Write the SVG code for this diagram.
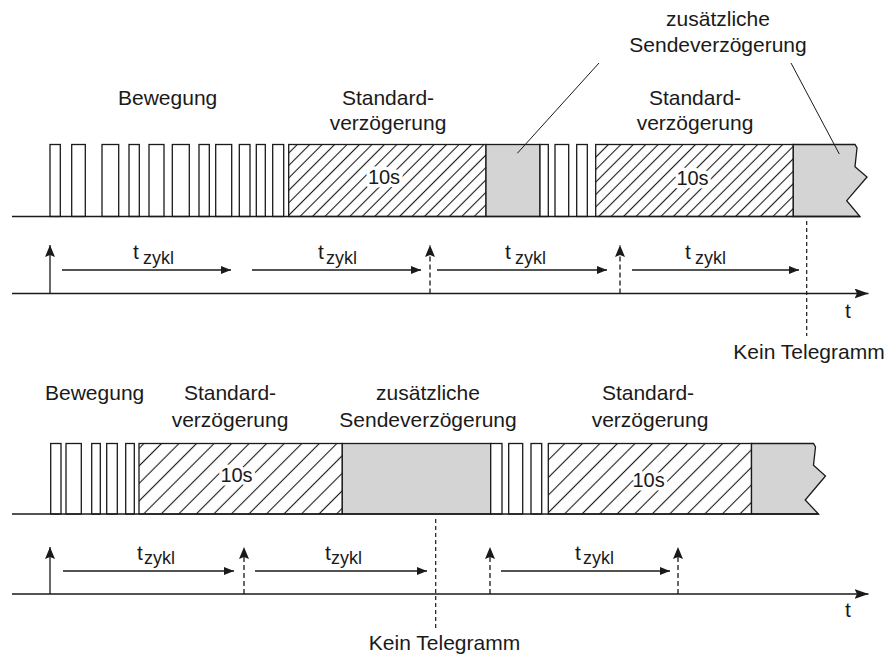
<svg xmlns="http://www.w3.org/2000/svg" width="887" height="660" viewBox="0 0 887 660">
<style>
  .txt { font-family: "Liberation Sans", Arial, sans-serif; font-size: 21px; fill: #1a1a1a; }
  .mid { text-anchor: middle; }
  .ten { font-family: "Liberation Sans", Arial, sans-serif; font-size: 20px; fill: #1a1a1a; text-anchor: middle; stroke: #ffffff; stroke-width: 7px; paint-order: stroke; stroke-linejoin: round; }
  .sub { font-size: 18px; }
  .pulse { fill: #ffffff; stroke: #1a1a1a; stroke-width: 1.3; }
  .gray { fill: #d4d4d4; stroke: #1a1a1a; stroke-width: 1.3; }
  .hT { fill: url(#hatchT); stroke: #1a1a1a; stroke-width: 1.3; }
  .hB { fill: url(#hatchB); stroke: #1a1a1a; stroke-width: 1.3; }
  .base { stroke: #1a1a1a; stroke-width: 1.5; fill: none; }
  .arr { stroke: #1a1a1a; stroke-width: 1.3; fill: none; }
  .dash { stroke: #1a1a1a; stroke-width: 1.3; fill: none; stroke-dasharray: 5 3; }
  .dot { stroke: #1a1a1a; stroke-width: 1.2; fill: none; stroke-dasharray: 4 3; }
  .lead { stroke: #1a1a1a; stroke-width: 1; fill: none; }
</style>
<defs>
  <pattern id="hatchT" patternUnits="userSpaceOnUse" width="20" height="8.8" patternTransform="rotate(-45)">
    <line x1="0" y1="4.4" x2="20" y2="4.4" stroke="#1a1a1a" stroke-width="1.1"/>
  </pattern>
  <pattern id="hatchB" patternUnits="userSpaceOnUse" width="20" height="12.4" patternTransform="rotate(-45)">
    <line x1="0" y1="6.2" x2="20" y2="6.2" stroke="#1a1a1a" stroke-width="1.1"/>
  </pattern>
  <marker id="up" viewBox="0 0 12 10" refX="12" refY="5" markerWidth="12" markerHeight="10" orient="auto" markerUnits="userSpaceOnUse">
    <path d="M0,0 L12,5 L0,10 L2,5 z" fill="#1a1a1a"/>
  </marker>
  <marker id="hz" viewBox="0 0 10 8" refX="10" refY="4" markerWidth="10" markerHeight="8" orient="auto" markerUnits="userSpaceOnUse">
    <path d="M0,0 L10,4 L0,8 z" fill="#1a1a1a"/>
  </marker>
  <marker id="ax" viewBox="0 0 14 10" refX="14" refY="5" markerWidth="14" markerHeight="10" orient="auto" markerUnits="userSpaceOnUse">
    <path d="M0,0 L14,5 L0,10 L2.5,5 z" fill="#1a1a1a"/>
  </marker>
</defs>

<!-- ============ TOP DIAGRAM ============ -->
<g id="top-signal">
  <rect class="pulse" x="50" y="144.5" width="10.3" height="72"/>
  <rect class="pulse" x="71.7" y="144.5" width="13.6" height="72"/>
  <rect class="pulse" x="102" y="144.5" width="16.7" height="72"/>
  <rect class="pulse" x="129" y="144.5" width="10.3" height="72"/>
  <rect class="pulse" x="149" y="144.5" width="15" height="72"/>
  <rect class="pulse" x="172.3" y="144.5" width="17" height="72"/>
  <rect class="pulse" x="199" y="144.5" width="10.3" height="72"/>
  <rect class="pulse" x="215.7" y="144.5" width="16" height="72"/>
  <rect class="pulse" x="239.3" y="144.5" width="10.7" height="72"/>
  <rect class="pulse" x="256.3" y="144.5" width="9" height="72"/>
  <rect class="pulse" x="272.7" y="144.5" width="11" height="72"/>
  <rect class="hT" x="288.7" y="144.5" width="197.3" height="72"/>
  <rect class="gray" x="486" y="144.5" width="54" height="72"/>
  <rect class="pulse" x="540" y="144.5" width="8.3" height="72"/>
  <rect class="pulse" x="555" y="144.5" width="13.7" height="72"/>
  <rect class="pulse" x="576.7" y="144.5" width="10.6" height="72"/>
  <rect class="hT" x="595.7" y="144.5" width="197.6" height="72"/>
  <polygon class="gray" points="793.3,144.5 855,144.5 857,148 855,166.7 867,177 846.7,200.7 860,216.5 793.3,216.5"/>
  <line class="base" x1="12" y1="216.5" x2="860" y2="216.5"/>
  <text class="ten" x="384" y="184">10s</text>
  <text class="ten" x="692.5" y="185">10s</text>
</g>

<g id="top-labels">
  <text class="txt" x="118" y="105">Bewegung</text>
  <text class="txt mid" x="388" y="105">Standard-</text>
  <text class="txt mid" x="388" y="130">verzögerung</text>
  <text class="txt mid" x="695" y="105">Standard-</text>
  <text class="txt mid" x="695" y="130">verzögerung</text>
  <text class="txt mid" x="718" y="26">zusätzliche</text>
  <text class="txt mid" x="718" y="52">Sendeverzögerung</text>
  <text class="txt mid" x="809" y="359">Kein Telegramm</text>
  <text class="txt" x="845" y="318">t</text>
  <text class="txt" x="133" y="259">t<tspan class="sub" x="143" y="263.5">zykl</tspan></text>
  <text class="txt" x="318" y="259">t<tspan class="sub" x="326" y="263.5">zykl</tspan></text>
  <text class="txt" x="505" y="259">t<tspan class="sub" x="515" y="263.5">zykl</tspan></text>
  <text class="txt" x="685" y="259">t<tspan class="sub" x="695" y="263.5">zykl</tspan></text>
</g>

<g id="top-connectors">
  <line class="lead" x1="517.3" y1="153.3" x2="599" y2="63"/>
  <line class="lead" x1="839.3" y1="154" x2="791" y2="63"/>
  <line class="base" x1="12" y1="293.5" x2="868.5" y2="293.5" marker-end="url(#ax)"/>
  <line class="arr" x1="50" y1="293.5" x2="50" y2="245" marker-end="url(#up)"/>
  <line class="dash" x1="430" y1="293.5" x2="430" y2="245" marker-end="url(#up)"/>
  <line class="dash" x1="620" y1="293.5" x2="620" y2="245" marker-end="url(#up)"/>
  <line class="arr" x1="62" y1="270" x2="231" y2="270" marker-end="url(#hz)"/>
  <line class="arr" x1="252" y1="270" x2="421" y2="270" marker-end="url(#hz)"/>
  <line class="arr" x1="437" y1="270" x2="607" y2="270" marker-end="url(#hz)"/>
  <line class="arr" x1="632" y1="270" x2="799" y2="270" marker-end="url(#hz)"/>
  <line class="dot" x1="806.7" y1="221" x2="806.7" y2="336"/>
</g>

<!-- ============ BOTTOM DIAGRAM ============ -->
<g id="bottom-signal">
  <rect class="pulse" x="50.7" y="443.5" width="10.3" height="70.5"/>
  <rect class="pulse" x="66" y="443.5" width="15.3" height="70.5"/>
  <rect class="pulse" x="91.7" y="443.5" width="8.6" height="70.5"/>
  <rect class="pulse" x="106.7" y="443.5" width="10.6" height="70.5"/>
  <rect class="pulse" x="125.7" y="443.5" width="8.6" height="70.5"/>
  <rect class="hB" x="139" y="443.5" width="203.3" height="70.5"/>
  <rect class="gray" x="342.3" y="443.5" width="148.4" height="70.5"/>
  <rect class="pulse" x="490.7" y="443.5" width="11.3" height="70.5"/>
  <rect class="pulse" x="508.7" y="443.5" width="14" height="70.5"/>
  <rect class="pulse" x="531" y="443.5" width="10.7" height="70.5"/>
  <rect class="hB" x="548.3" y="443.5" width="203.2" height="70.5"/>
  <polygon class="gray" points="751.5,443.5 813.5,443.5 815.5,447 813.5,465.3 825.5,476 805.2,500 818.5,514 751.5,514"/>
  <line class="base" x1="12" y1="514" x2="818.5" y2="514"/>
  <text class="ten" x="236.5" y="482">10s</text>
  <text class="ten" x="648.6" y="487">10s</text>
</g>

<g id="bottom-labels">
  <text class="txt" x="45" y="400">Bewegung</text>
  <text class="txt mid" x="230" y="400">Standard-</text>
  <text class="txt mid" x="230" y="426.5">verzögerung</text>
  <text class="txt mid" x="428" y="400">zusätzliche</text>
  <text class="txt mid" x="428" y="426.5">Sendeverzögerung</text>
  <text class="txt mid" x="648" y="400">Standard-</text>
  <text class="txt mid" x="650" y="426.5">verzögerung</text>
  <text class="txt mid" x="444.5" y="650">Kein Telegramm</text>
  <text class="txt" x="845" y="617">t</text>
  <text class="txt" x="137" y="560">t<tspan class="sub" x="144" y="564">zykl</tspan></text>
  <text class="txt" x="325" y="560">t<tspan class="sub" x="331" y="564">zykl</tspan></text>
  <text class="txt" x="575" y="560">t<tspan class="sub" x="583" y="564">zykl</tspan></text>
</g>

<g id="bottom-connectors">
  <line class="base" x1="12" y1="594" x2="868.5" y2="594" marker-end="url(#ax)"/>
  <line class="arr" x1="50" y1="594" x2="50" y2="547" marker-end="url(#up)"/>
  <line class="dash" x1="244" y1="594" x2="244" y2="547" marker-end="url(#up)"/>
  <line class="dash" x1="490" y1="594" x2="490" y2="547" marker-end="url(#up)"/>
  <line class="dash" x1="678" y1="594" x2="678" y2="547" marker-end="url(#up)"/>
  <line class="arr" x1="63" y1="571" x2="234" y2="571" marker-end="url(#hz)"/>
  <line class="arr" x1="255" y1="571" x2="427" y2="571" marker-end="url(#hz)"/>
  <line class="arr" x1="501" y1="571" x2="670" y2="571" marker-end="url(#hz)"/>
  <line class="dot" x1="435.7" y1="519" x2="435.7" y2="628"/>
</g>
</svg>
